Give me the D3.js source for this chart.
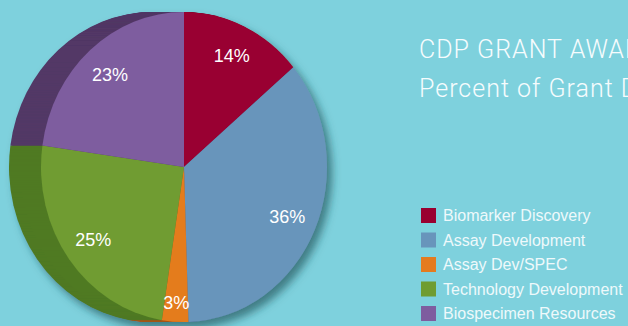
<!DOCTYPE html>
<html>
<head>
<meta charset="utf-8">
<script src="https://cdn.jsdelivr.net/npm/d3@7"></script>
<style>
  html, body { margin: 0; padding: 0; background: #7ed1dd; overflow: hidden; }
  svg { display: block; }
</style>
</head>
<body>
<svg id="pie-chart" width="628" height="326"></svg>
<script>
const categories = ["Biomarker Discovery", "Assay Development", "Assay Dev/SPEC", "Technology Development", "Biospecimen Resources"];
const percents = [14, 36, 3, 25, 23];
const labels = ["14%", "36%", "3%", "25%", "23%"];
const titleLines = ["CDP GRANT AWARDS", "Percent of Grant Dollars"];

const faceColors = ["#990030", "#6895bb", "#e47b1f", "#6f9c31", "#7e5d9f"];
const sideColors = ["#6a0526", "#4a6d8e", "#a3561a", "#507a24", "#523866"];

function drawPieChart() {
  const svg = d3.select("#pie-chart");
  svg.selectAll("*").remove();

  const cx = 184, cy = 167, rx = 143, ry = 155, depth = 32;

  const defs = svg.append("defs");
  const f = defs.append("filter").attr("id", "shadow")
    .attr("x", "-20%").attr("y", "-20%").attr("width", "140%").attr("height", "140%");
  f.append("feDropShadow")
    .attr("dx", 5).attr("dy", 6).attr("stdDeviation", 4)
    .attr("flood-color", "#1f4f55").attr("flood-opacity", 0.65);

  const pie = d3.pie().sort(null).value(d => d);
  const arcs = pie(percents);
  const arc = d3.arc().innerRadius(0).outerRadius(ry);

  const g = svg.append("g").attr("filter", "url(#shadow)");

  // side of the disc: stacked copies shifted left
  for (let i = depth; i >= 1; i--) {
    g.append("g")
      .attr("transform", `translate(${cx - i},${cy}) scale(${rx / ry},1)`)
      .selectAll("path")
      .data(arcs)
      .enter()
      .append("path")
      .attr("d", arc)
      .attr("fill", (d, j) => sideColors[j]);
  }

  // front face
  g.append("g")
    .attr("transform", `translate(${cx},${cy}) scale(${rx / ry},1)`)
    .selectAll("path")
    .data(arcs)
    .enter()
    .append("path")
    .attr("d", arc)
    .attr("fill", (d, j) => faceColors[j]);

  // percent labels
  const labelPos = d => {
    const a = (d.startAngle + d.endAngle) / 2;
    const r = (d.endAngle - d.startAngle) < 0.3 ? 0.88 : 0.79;
    return [cx + Math.sin(a) * rx * r, cy - Math.cos(a) * ry * r];
  };
  svg.selectAll(".lbl")
    .data(arcs)
    .enter()
    .append("text")
    .attr("class", "lbl")
    .attr("x", d => labelPos(d)[0])
    .attr("y", d => labelPos(d)[1])
    .attr("dy", "0.35em")
    .attr("text-anchor", "middle")
    .attr("fill", "#ffffff")
    .style("font-family", "'Liberation Sans', Arial, sans-serif")
    .style("font-size", "18px")
    .text((d, i) => labels[i]);

  // title
  svg.selectAll(".title")
    .data(titleLines)
    .enter()
    .append("text")
    .attr("class", "title")
    .attr("x", 419)
    .attr("y", (d, i) => 58 + i * 39)
    .attr("fill", "#f6fcfd")
    .style("font-family", "Roboto, sans-serif")
    .style("font-weight", 300)
    .style("font-size", "25px")
    .style("letter-spacing", "1px")
    .text(d => d);

  // legend
  const legend = svg.append("g").attr("transform", "translate(421,208)");
  const rows = legend.selectAll("g")
    .data(categories)
    .enter()
    .append("g")
    .attr("transform", (d, i) => `translate(0,${i * 24.5})`);
  rows.append("rect")
    .attr("width", 15).attr("height", 15)
    .attr("fill", (d, i) => faceColors[i]);
  rows.append("text")
    .attr("x", 22).attr("y", 13)
    .attr("fill", "#eef9fb")
    .style("font-family", "'Liberation Sans', Arial, sans-serif")
    .style("font-size", "16px")
    .text(d => d);
}

drawPieChart();
</script>
</body>
</html>
